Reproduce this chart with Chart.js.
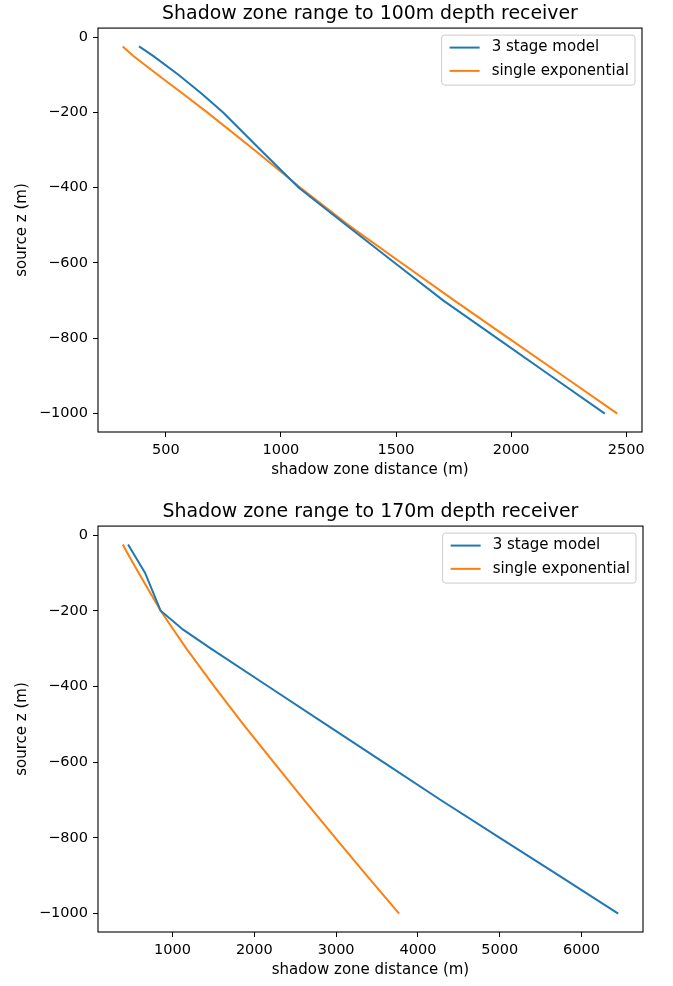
<!DOCTYPE html>
<html lang="en">
<head>
    <meta charset="UTF-8">
    <title>Shadow zone range</title>
    <script src="https://cdn.jsdelivr.net/npm/chart.js"></script>
    <style>
        html, body { margin: 0; padding: 0; background: #fff; }
        canvas { display: block; }
    </style>
</head>
<body>
    <canvas id="chartTop" width="673" height="493"></canvas>
    <canvas id="chartBottom" width="673" height="493"></canvas>
    <script>
        // source depths (m) and shadow zone distances (m)
        const depthTop = [-25, -50, -100, -150, -200, -300, -400, -500, -600, -700, -800, -900, -1000];
        const stageTop = [384, 445, 555, 655, 748, 912, 1078, 1285, 1495, 1706, 1940, 2173, 2407];
        const expTop = [313, 358, 465, 573, 680, 885, 1085, 1295, 1524, 1754, 1990, 2226, 2461];

        const depthBottom = [-25, -50, -100, -150, -200, -250, -300, -400, -500, -600, -700, -800, -900, -1000];
        const stageBottom = [457, 526, 665, 760, 855, 1130, 1470, 2172, 2874, 3576, 4278, 5001, 5725, 6448];
        const expBottom = [392, 455, 587, 720, 855, 1012, 1170, 1510, 1865, 2235, 2610, 2990, 3375, 3770];

        const xTicksTop = [500, 1000, 1500, 2000, 2500];
        const xTicksBottom = [1000, 2000, 3000, 4000, 5000, 6000];
        const zTicks = [0, -200, -400, -600, -800, -1000];

        const seriesNames = ['3 stage model', 'single exponential'];
        const seriesColors = ['#1f77b4', '#ff7f0e'];

        Chart.defaults.font.family = "'DejaVu Sans', sans-serif";
        Chart.defaults.color = '#000';

        // matplotlib style 5% margins around the data
        const padRange = (vals) => {
            const lo = Math.min(...vals), hi = Math.max(...vals);
            const m = (hi - lo) * 0.05;
            return [lo - m, hi + m];
        };
        const fmt = (v) => v < 0 ? '\u2212' + Math.abs(v) : String(v);

        // axes frame drawn over the lines, like matplotlib spines
        const frame = {
            id: 'frame',
            afterDatasetsDraw(chart) {
                const a = chart.chartArea, ctx = chart.ctx;
                ctx.save();
                ctx.strokeStyle = '#000';
                ctx.lineWidth = 1.1;
                ctx.strokeRect(a.left, a.top, a.right - a.left, a.bottom - a.top);
                ctx.restore();
            }
        };

        // legend box in the upper right corner of the axes
        const boxLegend = {
            id: 'boxLegend',
            afterDraw(chart) {
                const a = chart.chartArea, ctx = chart.ctx;
                ctx.save();
                ctx.font = "15px 'DejaVu Sans'";
                const sets = chart.data.datasets;
                const tw = Math.max(...sets.map(d => ctx.measureText(d.label).width));
                const pad = 6, handle = 30, gap = 12, rowH = 23.3;
                const w = pad + handle + gap + tw + pad + 2;
                const h = 50;
                const right = a.right - 7, top = a.top + 7;
                const left = right - w;
                ctx.beginPath();
                ctx.roundRect(left, top, w, h, 3);
                ctx.fillStyle = 'rgba(255,255,255,0.8)';
                ctx.fill();
                ctx.strokeStyle = '#cccccc';
                ctx.lineWidth = 1;
                ctx.stroke();
                sets.forEach((d, i) => {
                    const y = top + 12.5 + i * rowH;
                    ctx.beginPath();
                    ctx.moveTo(left + pad + 2, y);
                    ctx.lineTo(left + pad + 2 + handle, y);
                    ctx.strokeStyle = d.borderColor;
                    ctx.lineWidth = 2;
                    ctx.stroke();
                    ctx.fillStyle = '#000';
                    ctx.textBaseline = 'middle';
                    ctx.fillText(d.label, left + pad + 2 + handle + gap, y);
                });
                ctx.restore();
            }
        };

        function makeChart(id, title, depth, stage, exp, xTicks, lay) {
            const [xMin, xMax] = padRange(stage.concat(exp));
            const [zMin, zMax] = padRange(depth);
            const toPts = (xs) => xs.map((x, i) => ({ x: x, y: depth[i] }));
            return new Chart(document.getElementById(id), {
                type: 'scatter',
                data: {
                    datasets: [stage, exp].map((xs, i) => ({
                        label: seriesNames[i],
                        data: toPts(xs),
                        showLine: true,
                        borderColor: seriesColors[i],
                        backgroundColor: seriesColors[i],
                        borderWidth: 2,
                        pointRadius: 0,
                        tension: 0
                    }))
                },
                options: {
                    responsive: false,
                    animation: false,
                    layout: { padding: { left: 0, right: lay.right, top: 0, bottom: 0 } },
                    plugins: {
                        legend: { display: false },
                        tooltip: { enabled: false },
                        title: {
                            display: true,
                            fullSize: false,
                            text: title,
                            color: '#000',
                            font: { size: 18.9, weight: 'normal' },
                            padding: { top: lay.titleTop, bottom: lay.titleBottom }
                        }
                    },
                    scales: {
                        x: {
                            type: 'linear',
                            min: xMin,
                            max: xMax,
                            afterBuildTicks: (s) => { s.ticks = xTicks.map(v => ({ value: v })); },
                            afterFit: (s) => { s.height = lay.xHeight; },
                            grid: { drawOnChartArea: false, drawTicks: true, tickLength: 5, tickColor: '#000', lineWidth: 1 },
                            border: { display: false },
                            ticks: { padding: 5, maxRotation: 0, font: { size: 14.5 }, color: '#000', callback: fmt },
                            title: { display: true, text: 'shadow zone distance (m)', font: { size: 15 }, color: '#000', padding: { top: 0, bottom: lay.xTitle } }
                        },
                        y: {
                            type: 'linear',
                            min: zMin,
                            max: zMax,
                            afterBuildTicks: (s) => { s.ticks = zTicks.map(v => ({ value: v })); },
                            afterFit: (s) => { s.width = 98; },
                            grid: { drawOnChartArea: false, drawTicks: true, tickLength: 5, tickColor: '#000', lineWidth: 1 },
                            border: { display: false },
                            ticks: { padding: 5, font: { size: 14.5 }, color: '#000', callback: fmt },
                            title: { display: true, text: 'source z (m)', font: { size: 15 }, color: '#000', padding: { top: 13, bottom: 0 } }
                        }
                    }
                },
                plugins: [frame, boxLegend]
            });
        }

        makeChart('chartTop', 'Shadow zone range to 100m depth receiver',
            depthTop, stageTop, expTop, xTicksTop,
            { right: 31, titleTop: 2.7, titleBottom: 2.7, xHeight: 61, xTitle: 14 });
        makeChart('chartBottom', 'Shadow zone range to 170m depth receiver',
            depthBottom, stageBottom, expBottom, xTicksBottom,
            { right: 30, titleTop: 7.7, titleBottom: 2.7, xHeight: 54, xTitle: 7 });
    </script>
</body>
</html>
